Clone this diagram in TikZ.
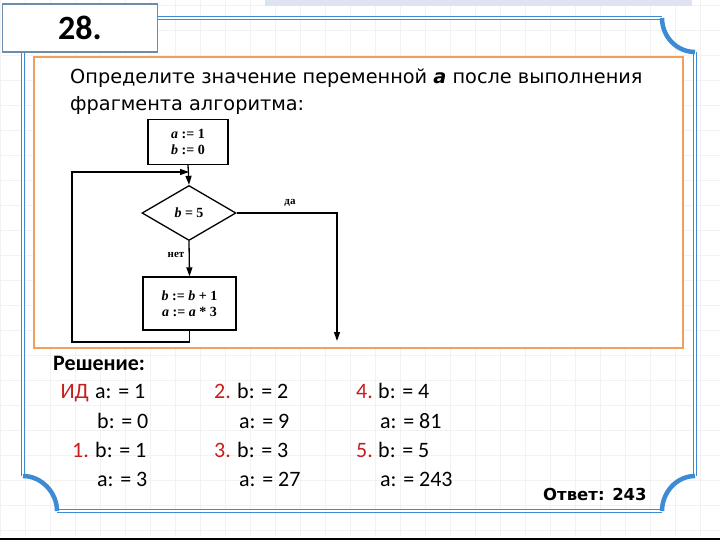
\documentclass[tikz,border=0pt]{standalone}
\usepackage{fontspec}
\setmainfont{Carlito}
\newfontfamily\headfont{DejaVu Sans}
\newfontfamily\chartfont{Liberation Serif}
\usetikzlibrary{arrows.meta,shapes.geometric}
\definecolor{color3d8bd4}{HTML}{3d8bd4}
\definecolor{color6b8caa}{HTML}{6b8caa}
\definecolor{colorf0a05a}{HTML}{f0a05a}
\definecolor{colorc81e1e}{HTML}{c81e1e}
\definecolor{colordde3f0}{HTML}{dde3f0}

\begin{document}
\begin{tikzpicture}
    [x=1pt, y=-1pt,
     >={Triangle[length=9pt,width=6pt]},  % filled flowchart arrows
     gridline/.style={draw=gray!10, line width=0.6pt},
     frameline/.style={draw=color3d8bd4, line width=1.4pt, double=white, double distance=1.2pt},
     framearc/.style={draw=color3d8bd4, line width=4.5pt},
     chartbox/.style={draw=black, line width=1.3pt, fill=white, font=\chartfont\bfseries\fontsize{14}{16}\selectfont, align=center, inner sep=0pt},
     chartline/.style={draw=black, line width=1.3pt},
     chartlabel/.style={font=\chartfont\bfseries\fontsize{11}{13}\selectfont, inner sep=0pt},
     steplabel/.style={anchor=base east, inner sep=0pt, text=colorc81e1e, font=\fontsize{22}{26}\selectfont},
     stepvalue/.style={anchor=base west, inner sep=0pt, font=\fontsize{22}{26}\selectfont},
    ]

\useasboundingbox (0,0) rectangle (720,540);
\fill[white] (0,0) rectangle (720,540);
% faint squared paper
\foreach \gx in {0,25,...,700} \draw[gridline] (\gx,0) -- (\gx,536);
\foreach \gy in {5,30,...,530} \draw[gridline] (0,\gy) -- (720,\gy);
\fill[colordde3f0] (265,0) rectangle (692,6);
\fill[black] (0,538) rectangle (720,540);

% slide frame: double sides, thick cut corners
\draw[frameline] (158,18) -- (662,18);
\draw[frameline] (695,52) -- (695,476);
\draw[frameline] (662,511) -- (57,511);
\draw[frameline] (23,476) -- (23,50);
\draw[framearc] (662,18) .. controls (662,36.5) and (676.5,52) .. (695,52);
\draw[framearc] (695,476) .. controls (676.5,476) and (662,492.5) .. (662,511);
\draw[framearc] (57,511) .. controls (57,492.5) and (41.5,476) .. (23,476);

\node[draw=color6b8caa, line width=1.6pt, fill=white, minimum width=155pt, minimum height=48pt, font=\bfseries\fontsize{34}{38}\selectfont] (node_title) at (80,28) {28.};

\draw[draw=colorf0a05a, line width=1.8pt, fill=white] (34,57) rectangle (683,348);

\node[anchor=base west, inner sep=0pt, font=\headfont\fontsize{19.3}{23}\selectfont] (node_task) at (70,84) {Определите значение переменной {\bfseries\itshape a} после выполнения};
\node[anchor=base west, inner sep=0pt, font=\headfont\fontsize{19.3}{23}\selectfont] (node_task_b) at (70,111) {фрагмента алгоритма:};

% flowchart
\node[chartbox, minimum width=80pt, minimum height=45pt] (node_init) at (188,142) {\textit{a} := 1\\\textit{b} := 0};
\node[chartbox, diamond, minimum width=94pt, minimum height=55pt] (node_cond) at (189,213) {\textit{b} = 5};
\node[chartbox, minimum width=93pt, minimum height=53pt] (node_body) at (189.5,303.5) {\textit{b} := \textit{b} + 1\\\textit{a} := \textit{a} * 3};
\node[chartlabel] (node_yes) at (290,203) {да};
\node[chartlabel] (node_no) at (176,255) {нет};
\coordinate (join) at (189,172);
\coordinate (loop_a) at (189.5,342);
\coordinate (loop_c) at (72,172);
\coordinate (yes_corner) at (337,213);
\coordinate (yes_end) at (337,341);
\draw[chartline, ->] (node_init.south) -- (node_cond.north);
\draw[chartline, ->] (node_cond.south) -- (node_body.north);
\draw[chartline, ->] (node_body.south) -- (loop_a) -| (loop_c) -- (join);
\draw[chartline, ->] (node_cond.east) -- (yes_corner) -- (yes_end);

% solution
\node[anchor=base west, inner sep=0pt, font=\bfseries\fontsize{22}{26}\selectfont] (node_sol) at (53,370) {Решение:};
\node[steplabel] (node_l0) at (89,398) {ИД};
\node[stepvalue] (node_v0a) at (95,398) {a: = 1};
\node[stepvalue] (node_v0b) at (97,428) {b: = 0};
\node[steplabel] (node_l1) at (89,457) {1.};
\node[stepvalue] (node_v1b) at (95,457) {b: = 1};
\node[stepvalue] (node_v1a) at (97,486) {a: = 3};
\node[steplabel] (node_l2) at (231,398) {2.};
\node[stepvalue] (node_v2b) at (237,398) {b: = 2};
\node[stepvalue] (node_v2a) at (239,428) {a: = 9};
\node[steplabel] (node_l3) at (231,457) {3.};
\node[stepvalue] (node_v3b) at (237,457) {b: = 3};
\node[stepvalue] (node_v3a) at (239,486) {a: = 27};
\node[steplabel] (node_l4) at (373,398) {4.};
\node[stepvalue] (node_v4b) at (378,398) {b: = 4};
\node[stepvalue] (node_v4a) at (380,428) {a: = 81};
\node[steplabel] (node_l5) at (373,457) {5.};
\node[stepvalue] (node_v5b) at (378,457) {b: = 5};
\node[stepvalue] (node_v5a) at (380,486) {a: = 243};
\node[anchor=base west, inner sep=0pt, font=\headfont\bfseries\fontsize{16.5}{20}\selectfont] (node_answer) at (543,500) {Ответ: 243};

\end{tikzpicture}
\end{document}
